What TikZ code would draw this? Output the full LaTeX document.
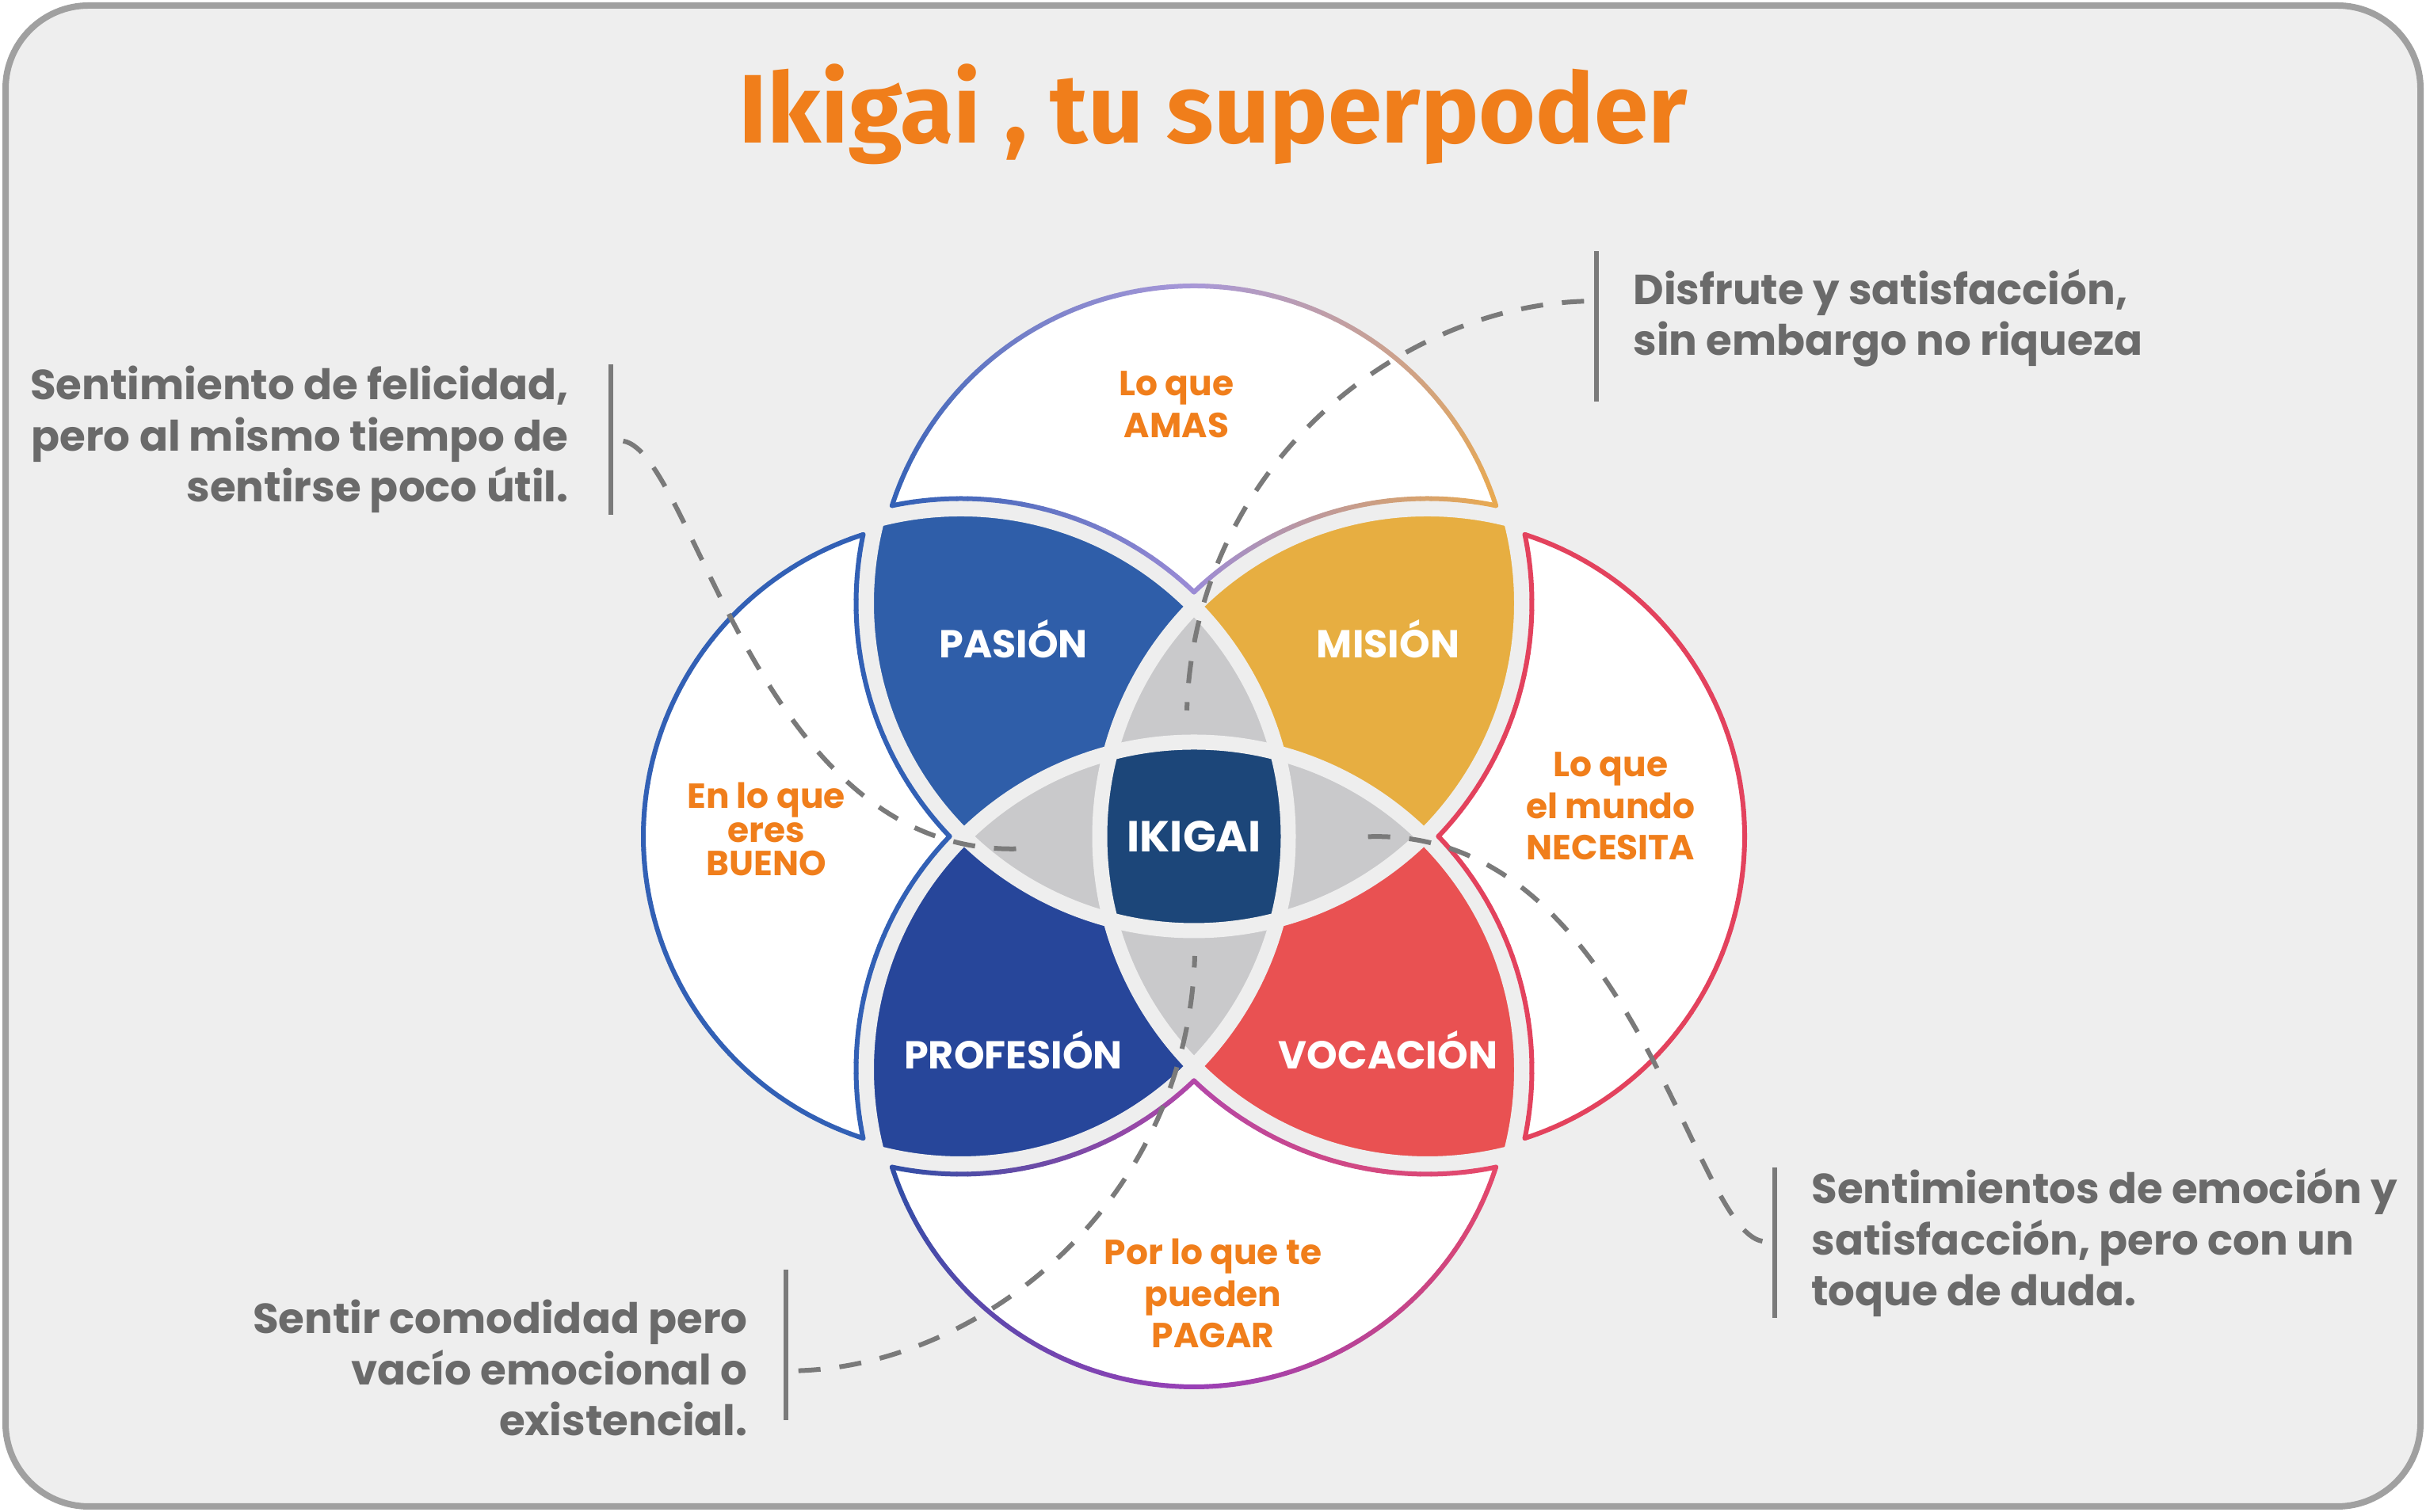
\documentclass[tikz,border=0pt]{standalone}
\usepackage{fontspec}
\setmainfont{Poppins}
\newfontfamily\titlefont{Fira Sans}
\usetikzlibrary{positioning, calc}

\definecolor{pagebg}        {HTML}{EEEEEE}
\definecolor{framecolor}    {HTML}{A0A0A0}
\definecolor{pasioncolor}   {HTML}{2F5EA9}
\definecolor{misioncolor}   {HTML}{E7AE41}
\definecolor{profesioncolor}{HTML}{27469A}
\definecolor{vocacioncolor} {HTML}{E95152}
\definecolor{lenscolor}     {HTML}{C9C9CB}
\definecolor{ikigaicolor}   {HTML}{1C4679}
\definecolor{labelorange}   {HTML}{F07E1B}
\definecolor{notegrey}      {HTML}{6A6A6A}
\definecolor{dashgrey}      {HTML}{7A7A7A}
%% rim colours
\definecolor{rimblue}    {HTML}{3260B5}
\definecolor{rimlavender}{HTML}{A898D8}
\definecolor{rimnotch}   {HTML}{9C8CD6}
\definecolor{rimorange}  {HTML}{E9A94F}
\definecolor{rimred}     {HTML}{E3425D}
\definecolor{rimpink}    {HTML}{E64868}
\definecolor{rimnavy}    {HTML}{2F4EA6}
\definecolor{rimviolet}  {HTML}{9A40B6}
\definecolor{rimmagenta} {HTML}{B447A8}

\def\dd{2.945}   % centre offset of each circle
\def\rr{4.135}   % circle radius
\def\rin{4.005}  % rim on own circle
\def\rout{4.265} % rim on neighbour circles
\def\nseg{30}

%% arc drawn in small pieces, colour running from #5 to #6
\newcommand{\gradarc}[6]{%
  \foreach \k in {1,...,\nseg}{%
    \pgfmathsetmacro{\angA}{#3+(#4-#3)*(\k-1)/\nseg}%
    \pgfmathsetmacro{\angB}{#3+(#4-#3)*\k/\nseg}%
    \pgfmathsetmacro{\mixp}{100*(\k-0.5)/\nseg}%
    \colorlet{segcol}{#6!\mixp!#5}%
    \draw[rimline, draw=segcol] ([shift={#1}]\angA:#2)
      arc[start angle=\angA, end angle=\angB, radius=#2];%
  }%
}

%% outer white part of one circle (written for the top one, then rotated)
\newcommand{\whiteregion}[5]{%
  \begin{scope}[rotate=#1]
    \fill[white] ([shift={(0,\dd)}]162.10:\rin)
      arc[start angle=162.10, end angle=17.90, radius=\rin]
      arc[start angle=78.28, end angle=133.67, radius=\rout]
      arc[start angle=46.33, end angle=101.72, radius=\rout] -- cycle;
    \gradarc{(0,\dd)}{\rin}{162.10}{90}{#2}{#3}
    \gradarc{(0,\dd)}{\rin}{90}{17.90}{#3}{#4}
    \gradarc{(\dd,0)}{\rout}{78.28}{133.67}{#4}{#5}
    \gradarc{(-\dd,0)}{\rout}{46.33}{101.72}{#5}{#2}
  \end{scope}
}

\tikzset{
  framebox/.style={
    draw=framecolor, fill=pagebg, line width=0.08cm, rounded corners=1.05cm
  },
  titletext/.style={
    font=\titlefont\bfseries\fontsize{35}{40}\selectfont, text=labelorange
  },
  gapline/.style={draw=pagebg, line width=0.19cm},
  rimline/.style={line width=0.06cm, line cap=round},
  regionlabel/.style={
    font=\bfseries\fontsize{14}{16}\selectfont, text=white
  },
  circlelabel/.style={
    font=\bfseries\fontsize{12.5}{15}\selectfont, text=labelorange,
    align=center, inner sep=0pt
  },
  notetext/.style={
    font=\bfseries\fontsize{15.1}{18.3}\selectfont, text=notegrey,
    inner sep=0pt
  },
  notebar/.style={
    fill=dashgrey, minimum width=0.06cm, minimum height=1.9cm, inner sep=0pt
  },
  leader/.style={
    draw=dashgrey, line width=0.06cm, dash pattern=on 0.28cm off 0.24cm,
    shorten <=0.12cm
  }
}

\begin{document}
\begin{tikzpicture}

	%% ═══════════════════════════════
	%%  PAGE + FRAME
	%% ═══════════════════════════════
	\fill[white] (0,0) rectangle (30.62,19.09);
	\draw[framebox] (0.07,0.07) rectangle (30.55,19.02);

	\node[titletext, anchor=base] (title) at (15.31,17.28) {Ikigai , tu superpoder};

	%% ═══════════════════════════════
	%%  VENN — four circles round (15.07,8.53)
	%% ═══════════════════════════════
	\begin{scope}[shift={(15.07,8.53)}]

		% two-circle lenses
		\begin{scope}
			\clip (90:\dd) circle (\rr);
			\fill[pasioncolor] (180:\dd) circle (\rr);
			\fill[misioncolor] (0:\dd) circle (\rr);
		\end{scope}
		\begin{scope}
			\clip (270:\dd) circle (\rr);
			\fill[profesioncolor] (180:\dd) circle (\rr);
			\fill[vocacioncolor] (0:\dd) circle (\rr);
		\end{scope}

		% grey lenses
		\begin{scope}
			\clip (180:\dd) circle (\rr);
			\fill[lenscolor] (0:\dd) circle (\rr);
		\end{scope}
		\begin{scope}
			\clip (90:\dd) circle (\rr);
			\fill[lenscolor] (270:\dd) circle (\rr);
		\end{scope}

		% centre
		\begin{scope}
			\clip (180:\dd) circle (\rr);
			\clip (0:\dd) circle (\rr);
			\clip (90:\dd) circle (\rr);
			\fill[ikigaicolor] (270:\dd) circle (\rr);
		\end{scope}

		% gaps between the parts
		\foreach \a in {0,90,180,270}
			\draw[gapline] (\a:\dd) circle (\rr);

		% outer white parts
		\whiteregion{0}{rimblue}{rimlavender}{rimorange}{rimnotch}
		\whiteregion{90}{rimblue}{rimblue}{rimblue}{rimblue}
		\whiteregion{180}{rimpink}{rimviolet}{rimnavy}{rimmagenta}
		\whiteregion{270}{rimred}{rimred}{rimred}{rimred}

		%% labels
		\node[regionlabel] (pasion)    at (-2.28, 2.49)  {PASIÓN};
		\node[regionlabel] (mision)    at (2.45, 2.49)   {MISIÓN};
		\node[regionlabel] (profesion) at (-2.28, -2.70) {PROFESIÓN};
		\node[regionlabel] (vocacion)  at (2.45, -2.70)  {VOCACIÓN};
		\node[regionlabel, font=\bfseries\fontsize{15.6}{17}\selectfont] (ikigai) at (0,0) {IKIGAI};

		\node[circlelabel] (amas)     at (-0.22, 5.45) {Lo que\\AMAS};
		\node[circlelabel, font=\bfseries\fontsize{12.5}{12.2}\selectfont]
		                   (bueno)    at (-5.40, 0.09) {En lo que\\eres\\BUENO};
		\node[circlelabel] (necesita) at (5.26, 0.38)  {Lo que\\el mundo\\NECESITA};
		\node[circlelabel] (pagar)    at (0.24, -5.77) {Por lo que te\\pueden\\PAGAR};

		%% leader ends
		\coordinate (endtl) at (-2.08, -0.15);
		\coordinate (endtr) at (-0.09, 1.59);
		\coordinate (endbl) at (0.01, -1.51);
		\coordinate (endbr) at (2.08, -0.01);
	\end{scope}

	%% ═══════════════════════════════
	%%  SIDE NOTES
	%% ═══════════════════════════════
	\node[notebar] (bartl) at (7.71,13.54) {};
	\node[notebar] (bartr) at (20.15,14.97) {};
	\node[notebar] (barbl) at (9.92,2.11) {};
	\node[notebar] (barbr) at (22.40,3.40) {};

	\node[notetext, align=right, left=0.49cm of bartl] (notetl)
		{Sentimiento de felicidad,\\pero al mismo tiempo de\\sentirse poco útil.};
	\node[notetext, align=left, right=0.42cm of bartr, yshift=0.10cm] (notetr)
		{Disfrute y satisfacción,\\sin embargo no riqueza};
	\node[notetext, align=right, left=0.44cm of barbl, yshift=-0.29cm] (notebl)
		{Sentir comodidad pero\\vacío emocional o\\existencial.};
	\node[notetext, align=left, right=0.42cm of barbr] (notebr)
		{Sentimientos de emoción y\\satisfacción, pero con un\\toque de duda.};

	% leaders
	\draw[leader] (bartl.east) .. controls +(-9:1.03) and +(184:3.42) .. (endtl);
	\draw[leader] ([yshift=0.32cm]bartr.west) .. controls +(181.8:2.44) and +(88.2:3.11) .. (endtr);
	\draw[leader] ([yshift=-0.33cm]barbl.east) .. controls +(1.8:2.44) and +(268.2:3.11) .. (endbl);
	\draw[leader] (barbr.west) .. controls +(171:1.03) and +(4:3.42) .. (endbr);

\end{tikzpicture}
\end{document}
